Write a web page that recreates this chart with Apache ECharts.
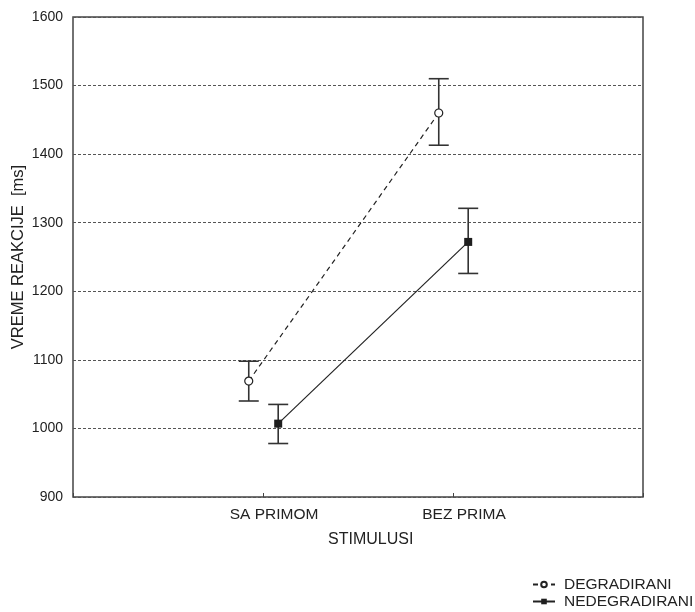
<!DOCTYPE html>
<html>
<head>
<meta charset="utf-8">
<script src="https://cdn.jsdelivr.net/npm/echarts@6/dist/echarts.min.js"></script>
<style>
html,body{margin:0;padding:0;background:#fff;}
#chart{width:695px;height:612px;}
</style>
</head>
<body>
<div id="chart"></div>
<script>
const categories = ['SA PRIMOM', 'BEZ PRIMA'];
const seriesNames = ['DEGRADIRANI', 'NEDEGRADIRANI'];
const degMean = [1069, 1460];
const degLow = [1040, 1413];
const degHigh = [1098, 1510];
const nedegMean = [1007, 1272];
const nedegLow = [978, 1226];
const nedegHigh = [1035, 1321];
const yTicks = [900, 1000, 1100, 1200, 1300, 1400, 1500, 1600];

const FONT = '"Liberation Sans", Arial, sans-serif';
const INK = '#222';
const offsets = [-0.075, 0.08];

function pts(mean, off) {
  return mean.map((v, i) => [i + 1 + off, v]);
}
function bars(low, high, off) {
  return low.map((v, i) => [i + 1 + off, v, high[i]]);
}

const errRender = function (params, api) {
  const x = api.value(0);
  const lo = api.coord([x, api.value(1)]);
  const hi = api.coord([x, api.value(2)]);
  const hw = 10;
  const style = { stroke: '#333', lineWidth: 1.6, fill: null };
  return {
    type: 'group',
    children: [
      { type: 'line', shape: { x1: lo[0], y1: lo[1], x2: hi[0], y2: hi[1] }, style: style },
      { type: 'line', shape: { x1: lo[0] - hw, y1: lo[1], x2: lo[0] + hw, y2: lo[1] }, style: style },
      { type: 'line', shape: { x1: hi[0] - hw, y1: hi[1], x2: hi[0] + hw, y2: hi[1] }, style: style }
    ]
  };
};

const chart = echarts.init(document.getElementById('chart'), null, { renderer: 'canvas' });
chart.setOption({
  animation: false,
  backgroundColor: '#fff',
  grid: {
    left: 73, right: 52, top: 17, bottom: 115,
    containLabel: false, outerBoundsMode: 'none',
    show: true, borderColor: '#444', borderWidth: 1.5
  },
  xAxis: {
    type: 'value', min: 0, max: 3, interval: 1,
    axisLine: { show: false },
    axisTick: { show: true, inside: true, length: 4, lineStyle: { color: '#444', width: 1 } },
    splitLine: { show: false },
    axisLabel: {
      color: '#222', fontFamily: FONT, fontSize: 15.5, margin: 10,
      padding: [0, 0, 0, 22],
      formatter: function (v) {
        const i = Math.round(v) - 1;
        return (Math.abs(v - Math.round(v)) < 1e-6 && i >= 0 && i < categories.length) ? categories[i] : '';
      }
    }
  },
  yAxis: {
    type: 'value', min: yTicks[0], max: yTicks[yTicks.length - 1], interval: 100,
    axisLine: { show: false },
    axisTick: { show: false },
    splitLine: { show: true, lineStyle: { color: '#555', type: [3, 2], width: 1 } },
    axisLabel: { color: '#222', fontFamily: FONT, fontSize: 14, margin: 10,
      formatter: function (v) { return String(v); } },
    name: 'VREME REAKCIJE  [ms]',
    nameLocation: 'middle',
    nameGap: 46,
    nameMoveOverlap: false,
    nameTextStyle: { color: '#222', fontFamily: FONT, fontSize: 16.5 }
  },
  graphic: [
    { type: 'text', left: 370 - 42, top: 532,
      style: { text: 'STIMULUSI', fill: '#222', font: '16px ' + FONT } }
  ],
  legend: {
    orient: 'vertical', left: 532, bottom: 2, padding: 0,
    itemWidth: 22, itemHeight: 7, itemGap: 0,
    textStyle: { color: '#222', fontFamily: FONT, fontSize: 15.5, lineHeight: 17, padding: [0, 0, 0, 4] },
    data: seriesNames
  },
  series: [
    {
      name: seriesNames[0], type: 'line', z: 5,
      data: pts(degMean, offsets[0]),
      symbol: 'circle', symbolSize: 8,
      lineStyle: { color: INK, width: 1.2, type: [5, 4] },
      itemStyle: { color: '#fff', borderColor: INK, borderWidth: 1.2 }
    },
    {
      name: seriesNames[1], type: 'line', z: 5,
      data: pts(nedegMean, offsets[1]),
      symbol: 'rect', symbolSize: 8,
      lineStyle: { color: INK, width: 1.2 },
      itemStyle: { color: '#1e1e1e', borderColor: '#1e1e1e', borderWidth: 0 }
    },
    {
      type: 'custom', z: 2, renderItem: errRender,
      data: bars(degLow, degHigh, offsets[0]),
      encode: { x: 0, y: [1, 2] }
    },
    {
      type: 'custom', z: 2, renderItem: errRender,
      data: bars(nedegLow, nedegHigh, offsets[1]),
      encode: { x: 0, y: [1, 2] }
    }
  ]
});
</script>
</body>
</html>
